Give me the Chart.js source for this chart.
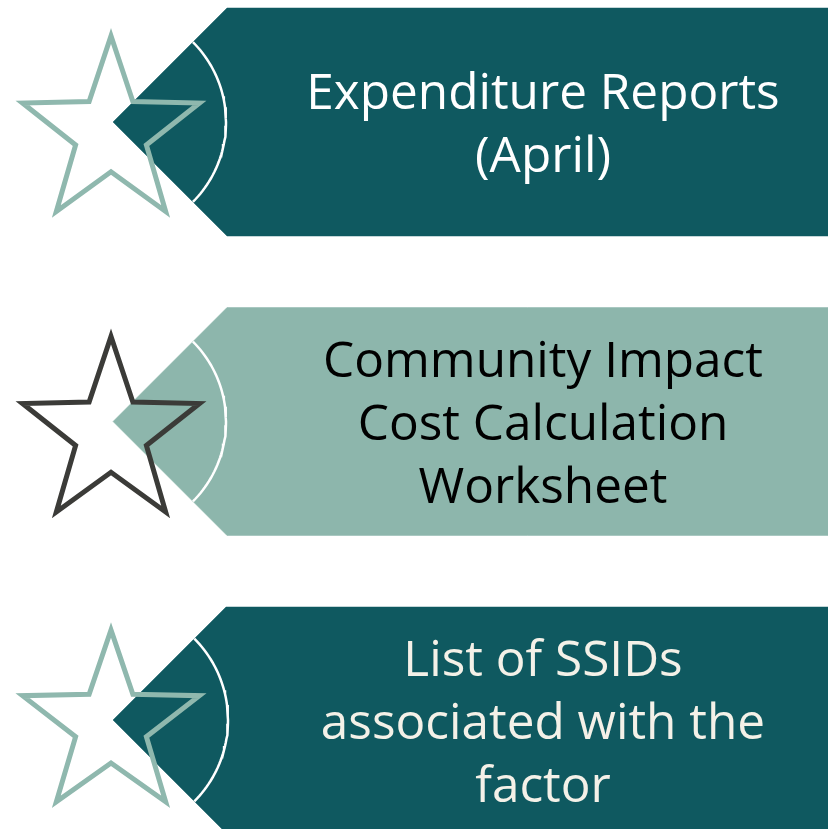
<!DOCTYPE html>
<html>
<head>
<meta charset="utf-8">
<script src="https://cdn.jsdelivr.net/npm/chart.js@4.4.1/dist/chart.umd.min.js"></script>
<style>
  html, body { margin: 0; padding: 0; background: #ffffff; }
  #wrap { width: 828px; height: 829px; }
</style>
</head>
<body>
<div id="wrap"><canvas id="c" width="828" height="829" aria-label="Expenditure Reports (April); Community Impact Cost Calculation Worksheet; List of SSIDs associated with the factor"></canvas></div>
<script>
// ---- Data ----
const itemLabels = [
  ["Expenditure Reports", "(April)"],
  ["Community Impact", "Cost Calculation", "Worksheet"],
  ["List of SSIDs", "associated with the", "factor"]
];
const bandTop    = [8, 307.5, 607];
const bandBottom = [236, 535.5, 833];
const tipY       = [122, 421.5, 720];
const tipX       = [113, 113, 113];
const arcRadius  = [113, 113, 115];
const starCx     = [111, 111, 111];
const starCy     = [133, 433.5, 725];
const starRadiusX = [93, 93, 93];
const starRadiusY = [97, 97, 95];
const starInnerRatio = 0.4;
const firstBaseline = [108.5, 377, 676];
const lineGap = 63;
const textCenterX = 543;
const bandColors = ["#0F5960", "#8DB6AC", "#0F5960"];
const starColors = ["#8FB8AE", "#3B3B38", "#8FB8AE"];
const textColors = ["#FFFFFF", "#000000", "#F4F1E8"];
const canvasW = 828, canvasH = 829;

// ---- Build shapes from the data ----
function bandPolygon(i) {
  const t = bandTop[i], b = bandBottom[i], cy = tipY[i], tx = tipX[i];
  return [
    {x: canvasW, y: t},
    {x: tx + (cy - t), y: t},
    {x: tx, y: cy},
    {x: tx + (b - cy), y: b},
    {x: canvasW, y: b},
    {x: canvasW, y: t}
  ];
}
function arcPoints(i) {
  const pts = [];
  const n = 48;
  for (let k = 0; k <= n; k++) {
    const a = -Math.PI / 4 + (Math.PI / 2) * k / n;
    pts.push({x: tipX[i] + arcRadius[i] * Math.cos(a), y: tipY[i] + arcRadius[i] * Math.sin(a)});
  }
  return pts;
}
function starPoints(i) {
  const Rx = starRadiusX[i], Ry = starRadiusY[i], cx = starCx[i], cy = starCy[i];
  const verts = [];
  for (let k = 0; k < 10; k++) {
    const a = -Math.PI / 2 + k * Math.PI / 5;
    const f = k % 2 === 0 ? 1 : starInnerRatio;
    verts.push({x: cx + f * Rx * Math.cos(a), y: cy + f * Ry * Math.sin(a)});
  }
  // start at the middle of the first edge so every vertex gets a proper join
  const mid = {x: (verts[0].x + verts[1].x) / 2, y: (verts[0].y + verts[1].y) / 2};
  return [mid].concat(verts.slice(1), [verts[0], mid]);
}

const datasets = [];
for (let i = 0; i < 3; i++) {
  datasets.push({
    label: 'star' + i, data: starPoints(i), showLine: true, fill: false,
    borderColor: starColors[i], borderWidth: 5, borderJoinStyle: 'miter', borderCapStyle: 'butt',
    pointRadius: 0, tension: 0, order: 0
  });
  datasets.push({
    label: 'arc' + i, data: arcPoints(i), showLine: true, fill: false,
    borderColor: '#FFFFFF', borderWidth: 2.5, pointRadius: 0, tension: 0, order: 1
  });
  datasets.push({
    label: 'band' + i, data: bandPolygon(i), showLine: true, fill: 'shape',
    backgroundColor: bandColors[i], borderColor: bandColors[i], borderWidth: 0.5,
    pointRadius: 0, tension: 0, order: 2
  });
}

const textPlugin = {
  id: 'bandText',
  afterDatasetsDraw(chart) {
    const ctx = chart.ctx, xs = chart.scales.x, ys = chart.scales.y;
    ctx.save();
    ctx.font = '49.5px "Open Sans", "Noto Sans", sans-serif';
    ctx.textAlign = 'center';
    ctx.textBaseline = 'alphabetic';
    for (let i = 0; i < 3; i++) {
      ctx.fillStyle = textColors[i];
      itemLabels[i].forEach((line, j) => {
        ctx.fillText(line, xs.getPixelForValue(textCenterX), ys.getPixelForValue(firstBaseline[i] + j * lineGap));
      });
    }
    ctx.restore();
  }
};

new Chart(document.getElementById('c'), {
  type: 'scatter',
  data: { datasets },
  options: {
    responsive: false, animation: false, devicePixelRatio: 1,
    layout: { padding: 0 },
    plugins: { legend: { display: false }, tooltip: { enabled: false } },
    scales: {
      x: { type: 'linear', min: 0, max: canvasW, display: false },
      y: { type: 'linear', min: 0, max: canvasH, reverse: true, display: false }
    }
  },
  plugins: [textPlugin]
});
</script>
</body>
</html>
